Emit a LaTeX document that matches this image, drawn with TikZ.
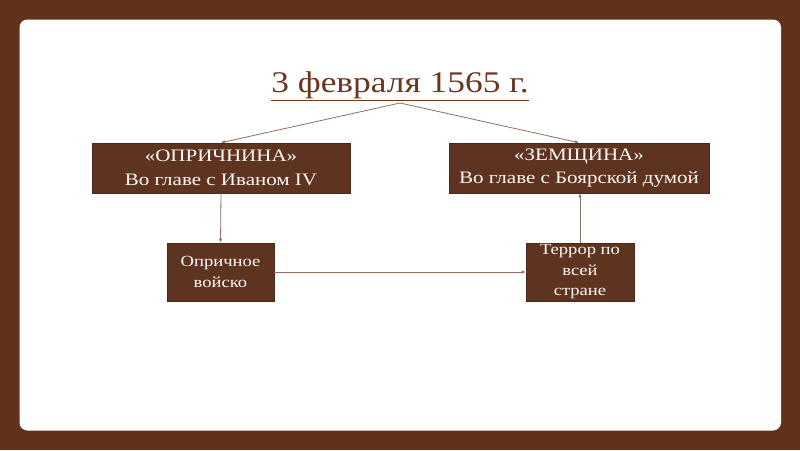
\documentclass[tikz,border=0pt]{standalone}
\usepackage{fontspec}
\setmainfont{Liberation Serif}
\newfontfamily\wideserif[FakeStretch=1.2]{Liberation Serif}
\newfontfamily\titleserif[FakeStretch=1.18]{Liberation Serif}
\usetikzlibrary{arrows.meta}
\definecolor{wood}{HTML}{60321B}
\definecolor{boxfill}{HTML}{5E3320}
\definecolor{titlec}{HTML}{6A3620}
\definecolor{linec}{HTML}{8E6E62}
\tikzset{
  brownbox/.style={draw=boxfill!80!black, line width=0.6pt, fill=boxfill, text=white!95!brown, inner sep=0pt, align=center, font=\wideserif\fontsize{17.5}{23.5}\selectfont},
  smallbox/.style={brownbox, minimum height=58pt, font=\wideserif\fontsize{15.5}{20.5}\selectfont},
  conn/.style={draw=linec, line width=0.8pt, -{Latex[length=4pt,width=3.5pt]}}
}
\begin{document}
\begin{tikzpicture}[x=1pt,y=-1pt]
\useasboundingbox (0,0) rectangle (800,450);
\fill[wood] (0,0) rectangle (800,450);
\fill[white, rounded corners=8pt] (19.5,19.5) rectangle (781,430.5);
\node[text=titlec, font=\titleserif\fontsize{30}{34}\selectfont] (title) at (400,86) {\underline{3 февраля 1565 г.}};
\coordinate (apex) at (400,103);
\node[brownbox, minimum width=258pt, minimum height=50pt] (opr) at (221,168) {«ОПРИЧНИНА»\\Во главе с Иваном IV};
\node[brownbox, minimum width=260pt, minimum height=50pt] (zem) at (579,168) {«ЗЕМЩИНА»\\Во главе с Боярской думой};
\node[smallbox, minimum width=107pt] (voi) at (220.5,272) {Опричное\\войско};
\node[smallbox, minimum width=108pt] (ter) at (580,272) {Террор по\\всей\\стране};
\draw[conn] (apex) -- (opr.north);
\draw[conn] (apex) -- (zem.north);
\draw[conn] (opr.south) -- (voi.north);
\draw[conn] (voi.east) -- (ter.west);
\draw[conn] (ter.north) -- (zem.south -| ter.north);
\end{tikzpicture}
\end{document}
